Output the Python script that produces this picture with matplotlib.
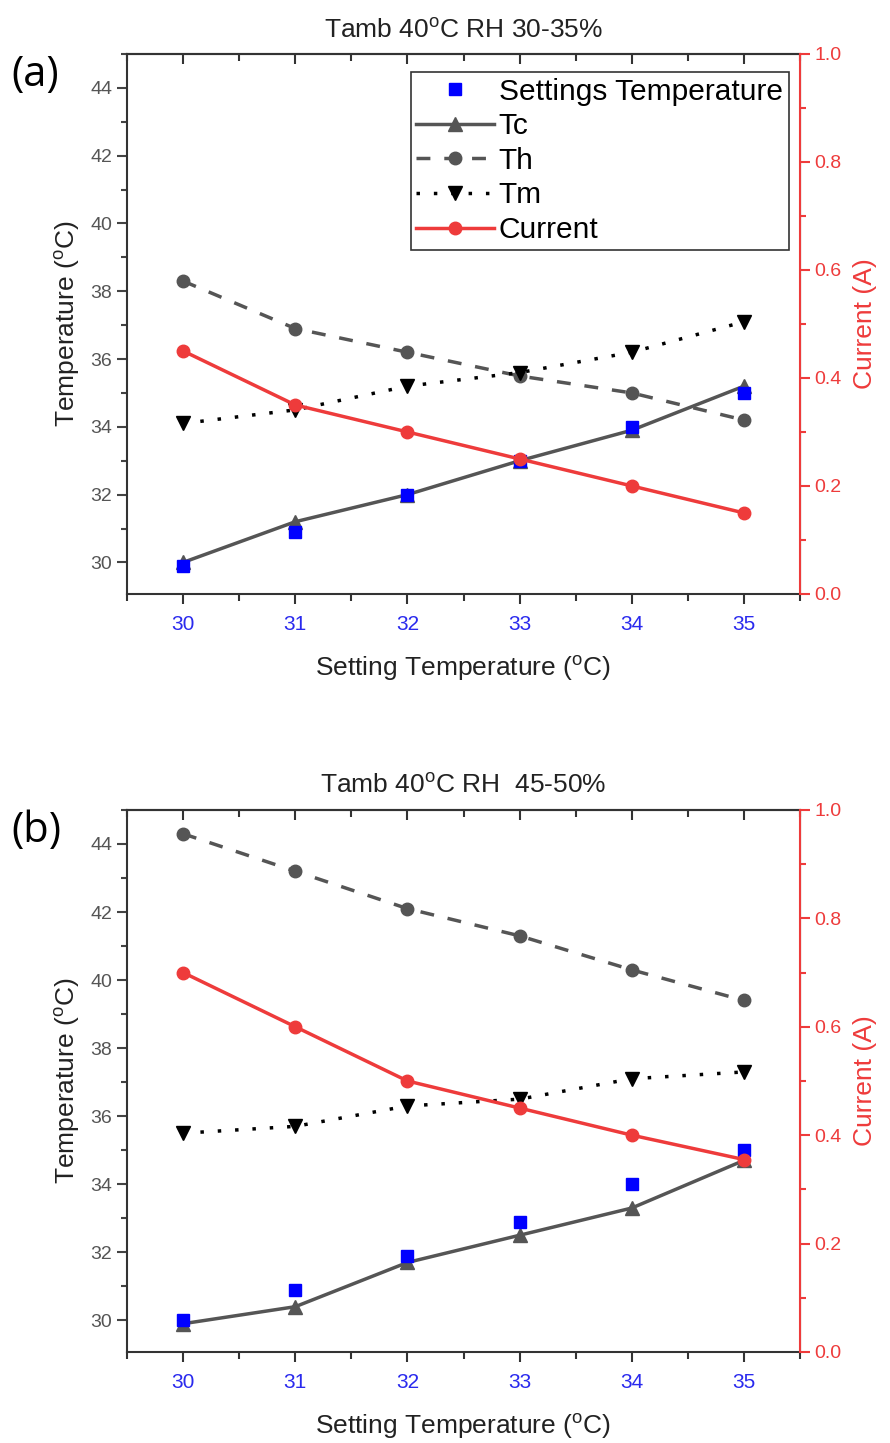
import matplotlib
matplotlib.use('Agg')
import matplotlib.pyplot as plt
from matplotlib.ticker import MultipleLocator

plt.rcParams['font.family'] = ['Liberation Sans Narrow', 'Liberation Sans', 'DejaVu Sans']
plt.rcParams['mathtext.fontset'] = 'custom'
plt.rcParams['mathtext.rm'] = 'Liberation Sans'

# Data
setting = [30, 31, 32, 33, 34, 35]

# (a) RH 30-35%
a_settings = [29.9, 30.9, 32.0, 33.0, 34.0, 35.0]
a_tc = [30.0, 31.2, 32.0, 33.0, 33.9, 35.2]
a_th = [38.3, 36.9, 36.2, 35.5, 35.0, 34.2]
a_tm = [34.1, 34.5, 35.2, 35.6, 36.2, 37.1]
a_current = [0.45, 0.35, 0.30, 0.25, 0.20, 0.15]

# (b) RH 45-50%
b_settings = [30.0, 30.9, 31.9, 32.9, 34.0, 35.0]
b_tc = [29.9, 30.4, 31.7, 32.5, 33.3, 34.7]
b_th = [44.3, 43.2, 42.1, 41.3, 40.3, 39.4]
b_tm = [35.5, 35.7, 36.3, 36.5, 37.1, 37.3]
b_current = [0.70, 0.60, 0.50, 0.45, 0.40, 0.355]

DEG = r'$^\mathregular{o}$'
GREY = '#555555'
RED = '#ee3b3b'
BLUE = '#0000ff'

fig = plt.figure(figsize=(8.9, 14.43), dpi=100)


def panel(rect, settings, tc, th, tm, current, title, tag, show_legend):
    ax = fig.add_axes(rect)
    ax2 = ax.twinx()

    h1, = ax.plot(setting, settings, 's', color=BLUE, ms=8, label='Settings Temperature', zorder=5)
    h2, = ax.plot(setting, tc, '-^', color=GREY, lw=2.5, ms=10, label='Tc')
    h3, = ax.plot(setting, th, marker='o', linestyle=(0, (4, 4)), color=GREY, lw=2.5, ms=9, label='Th')
    h4, = ax.plot(setting, tm, marker='v', linestyle=(0, (1, 4)), color='black', lw=2.5, ms=10, label='Tm')
    h5, = ax2.plot(setting, current, '-o', color=RED, lw=2.5, ms=9, label='Current')

    ax.set_xlim(29.5, 35.5)
    ax.set_ylim(29.07, 45.0)
    ax2.set_ylim(0, 1.0)

    ax.xaxis.set_major_locator(MultipleLocator(1))
    ax.xaxis.set_minor_locator(MultipleLocator(0.5))
    ax.yaxis.set_major_locator(MultipleLocator(2))
    ax.yaxis.set_minor_locator(MultipleLocator(1))
    ax2.yaxis.set_major_locator(MultipleLocator(0.2))
    ax2.yaxis.set_minor_locator(MultipleLocator(0.1))
    ax2.yaxis.set_major_formatter(plt.FormatStrFormatter('%.1f'))

    ax.tick_params(axis='x', which='both', direction='out', colors='#333333',
                   labelcolor='#2a2aee', labelsize=15, pad=8, width=1.5)
    ax.tick_params(axis='x', which='major', length=7)
    ax.tick_params(axis='x', which='minor', length=5)
    ax.tick_params(axis='y', which='both', direction='out', colors='#444444',
                   labelcolor='#555555', labelsize=14, width=1.5)
    ax.tick_params(axis='y', which='major', length=7)
    ax.tick_params(axis='y', which='minor', length=4)
    ax2.tick_params(axis='y', which='both', direction='out', colors=RED,
                    labelcolor=RED, labelsize=14, width=1.5)
    ax2.tick_params(axis='y', which='major', length=7)
    ax2.tick_params(axis='y', which='minor', length=4)

    # inward ticks along the top edge
    top = ax.secondary_xaxis('top')
    top.xaxis.set_major_locator(MultipleLocator(1))
    top.xaxis.set_minor_locator(MultipleLocator(0.5))
    top.tick_params(which='both', direction='in', labeltop=False, colors='#333333', width=1.5)
    top.tick_params(which='major', length=7)
    top.tick_params(which='minor', length=5)
    top.spines['top'].set_linewidth(1.5)
    top.spines['top'].set_color('#333333')

    for s in ['left', 'bottom', 'top']:
        ax.spines[s].set_linewidth(1.5)
        ax.spines[s].set_color('#333333')
    ax2.spines['right'].set_color(RED)
    ax2.spines['right'].set_linewidth(1.5)
    for s in ['left', 'bottom', 'top']:
        ax2.spines[s].set_visible(False)

    ax.set_xlabel('Setting Temperature (' + DEG + 'C)', fontsize=19, color='#222222', labelpad=14)
    ax.set_ylabel('Temperature (' + DEG + 'C)', fontsize=19, color='#222222', labelpad=6)
    ax2.set_ylabel('Current (A)', fontsize=19, color=RED, labelpad=8)
    ax.set_title(title, fontsize=19, color='#222222', pad=12)

    fig.text(0.013, rect[1] + rect[3] - 0.0145, tag, fontsize=30, family='Open Sans',
             va='center', ha='left', color='black')

    if show_legend:
        leg = ax2.legend([h1, h2, h3, h4, h5],
                         ['Settings Temperature', 'Tc', 'Th', 'Tm', 'Current'],
                         loc='upper right', bbox_to_anchor=(0.983, 0.967), borderaxespad=0,
                         frameon=True, fancybox=False, edgecolor='black',
                         handlelength=2.6, handletextpad=0.15, labelspacing=0.22,
                         borderpad=0.2, prop={'family': 'Liberation Sans', 'size': 21.5})
        leg.get_frame().set_linewidth(1.2)
    return ax, ax2


panel([0.1427, 0.5884, 0.7562, 0.3742], a_settings, a_tc, a_th, a_tm, a_current,
      'Tamb 40' + DEG + 'C RH 30-35%', '(a)', True)
panel([0.1427, 0.0631, 0.7562, 0.3756], b_settings, b_tc, b_th, b_tm, b_current,
      'Tamb 40' + DEG + 'C RH  45-50%', '(b)', False)

fig.savefig('out.png', dpi=100)
